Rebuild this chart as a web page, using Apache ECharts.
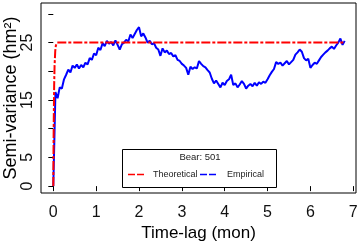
<!DOCTYPE html>
<html><head><meta charset="utf-8">
<script src="https://cdn.jsdelivr.net/npm/echarts@6/dist/echarts.min.js"></script>
<style>html,body{margin:0;padding:0;background:#fff}#c{width:360px;height:249px}</style>
</head><body><div id="c"></div>
<script>
// Theoretical variogram model (lag in months, semi-variance in hm²)
const theoLag = [0, 0.005, 0.01, 0.02, 0.03, 0.045, 0.06, 0.09, 6.78];
const theoSemivar = [0, 6, 11, 17.5, 21, 23.5, 24.5, 25, 25];
// Empirical semi-variance
const empLag = [0, 0.05, 0.10, 0.15, 0.20, 0.25, 0.30, 0.35, 0.40, 0.45, 0.50, 0.55, 0.60, 0.65, 0.70, 0.75, 0.80, 0.85, 0.90, 0.95,
  1.00, 1.05, 1.10, 1.15, 1.20, 1.25, 1.30, 1.35, 1.40, 1.45, 1.50, 1.55, 1.60, 1.65, 1.70, 1.75, 1.80, 1.85, 1.90, 1.95,
  2.00, 2.05, 2.10, 2.15, 2.20, 2.25, 2.30, 2.35, 2.40, 2.45, 2.50, 2.55, 2.60, 2.65, 2.70, 2.75, 2.80, 2.85, 2.90, 2.95,
  3.00, 3.05, 3.10, 3.15, 3.20, 3.25, 3.30, 3.35, 3.40, 3.45, 3.50, 3.55, 3.60, 3.65, 3.70, 3.75, 3.80, 3.85, 3.90, 3.95,
  4.00, 4.05, 4.10, 4.15, 4.20, 4.25, 4.30, 4.35, 4.40, 4.45, 4.50, 4.55, 4.60, 4.65, 4.70, 4.75, 4.80, 4.85, 4.90, 4.95,
  5.00, 5.05, 5.10, 5.15, 5.20, 5.25, 5.30, 5.35, 5.40, 5.45, 5.50, 5.55, 5.60, 5.65, 5.70, 5.75, 5.80, 5.85, 5.90, 5.95,
  6.00, 6.05, 6.10, 6.15, 6.20, 6.25, 6.30, 6.35, 6.40, 6.45, 6.50, 6.55, 6.60, 6.65, 6.70, 6.75, 6.80];
const empSemivar = [0, 16.4, 15.3, 17.2, 17.0, 18.6, 19.4, 20.3, 19.8, 21.0, 20.6, 21.2, 20.5, 21.1, 20.7, 21.5, 21.2, 22.3, 22.0, 23.1,
  22.8, 24.1, 23.7, 24.9, 24.4, 25.3, 24.8, 25.1, 24.5, 25.4, 24.6, 23.8, 24.7, 25.0, 25.5, 25.2, 26.4, 25.8, 26.5, 27.2,
  27.7, 26.1, 26.6, 25.9, 25.0, 25.3, 24.7, 24.9, 24.1, 23.8, 22.7, 24.0, 23.3, 23.6, 23.0, 23.2, 22.6, 22.8, 22.0, 21.8,
  21.3, 21.0, 20.6, 19.4, 20.8, 20.4, 20.7, 20.5, 21.8, 21.3, 20.9, 20.7, 20.2, 19.8, 18.7, 17.9, 18.4, 17.8, 17.2, 18.0,
  17.6, 18.3, 18.6, 19.4, 17.6, 17.9, 17.2, 17.7, 18.3, 17.8, 17.0, 17.5, 17.8, 17.4, 18.0, 17.5, 18.1, 17.8, 18.2, 18.0,
  18.6, 19.3, 19.9, 20.4, 21.6, 21.3, 21.5, 21.0, 21.4, 21.8, 21.2, 21.6, 22.0, 22.9, 23.3, 23.8, 23.4, 22.3, 21.9, 22.2,
  20.6, 21.1, 21.5, 21.3, 21.9, 22.5, 22.9, 23.3, 23.6, 24.0, 24.3, 23.9, 24.5, 25.0, 25.7, 24.6, 25.3];
const xTicks = [0, 1, 2, 3, 4, 5, 6, 7];
const yTicks = [0, 5, 10, 15, 20, 25, 30];
const yLabels = [0, 5, 15, 25];
const legendTitle = 'Bear: 501';
const seriesNames = ['Theoretical', 'Empirical'];
const xTitle = 'Time-lag (mon)';
const yTitle = 'Semi-variance (hm²)';

const FONT = 'Liberation Sans';
const chart = echarts.init(document.getElementById('c'), null, {renderer: 'canvas'});
const zip = (a, b) => a.map((v, i) => [v, b[i]]);
chart.setOption({
  animation: false,
  grid: {left: 41, top: 3, right: 4, bottom: 56, show: true, borderColor: '#000', borderWidth: 1, backgroundColor: 'transparent',
    containLabel: false, outerBoundsMode: 'none'},
  xAxis: {
    type: 'value', min: -0.287, max: 7.064,
    axisLine: {show: false}, splitLine: {show: false},
    axisTick: {show: true, customValues: xTicks, length: 5, lineStyle: {color: '#000'}},
    axisLabel: {customValues: xTicks, fontSize: 16, color: '#111', fontFamily: FONT, margin: 12},
    name: xTitle, nameLocation: 'middle', nameGap: 32, nameMoveOverlap: false,
    nameTextStyle: {fontSize: 17, color: '#000', fontFamily: FONT}
  },
  yAxis: {
    type: 'value', min: -1.2, max: 31.9,
    axisLine: {show: false}, splitLine: {show: false},
    axisTick: {show: true, customValues: yTicks, length: 5, lineStyle: {color: '#000'}},
    axisLabel: {customValues: yLabels, fontSize: 16, color: '#111', fontFamily: FONT, rotate: 90, margin: 5},
    name: yTitle, nameLocation: 'middle', nameGap: 21, nameRotate: 90, nameMoveOverlap: false,
    nameTextStyle: {fontSize: 18, color: '#000', fontFamily: FONT}
  },
  series: [
    {name: seriesNames[1], type: 'line', data: zip(empLag, empSemivar), showSymbol: false, symbol: 'none', z: 2,
      lineStyle: {color: '#0000ff', width: 2}},
    {name: seriesNames[0], type: 'line', data: zip(theoLag, theoSemivar), showSymbol: false, symbol: 'none', z: 3,
      lineStyle: {color: '#ff0000', width: 2, type: [9, 2, 3, 2]}}
  ],
  graphic: [
    {type: 'rect', shape: {x: 122.5, y: 149.5, width: 154, height: 38}, style: {fill: '#fff', stroke: '#000', lineWidth: 1}, z: 10},
    {type: 'text', x: 200, y: 157, style: {text: legendTitle, fill: '#222', font: '9.5px "Liberation Sans"', textAlign: 'center', textVerticalAlign: 'middle'}, z: 11},
    {type: 'line', shape: {x1: 128, y1: 174.5, x2: 145, y2: 174.5}, style: {stroke: '#ff0000', lineWidth: 1.5, lineDash: [7, 2]}, z: 11},
    {type: 'text', x: 153, y: 174.5, style: {text: seriesNames[0], fill: '#222', font: '9px "Liberation Sans"', textAlign: 'left', textVerticalAlign: 'middle'}, z: 11},
    {type: 'line', shape: {x1: 200, y1: 174.5, x2: 217, y2: 174.5}, style: {stroke: '#0000ff', lineWidth: 1.5, lineDash: [7, 2]}, z: 11},
    {type: 'text', x: 227, y: 174.5, style: {text: seriesNames[1], fill: '#222', font: '9px "Liberation Sans"', textAlign: 'left', textVerticalAlign: 'middle'}, z: 11}
  ]
});
</script></body></html>
